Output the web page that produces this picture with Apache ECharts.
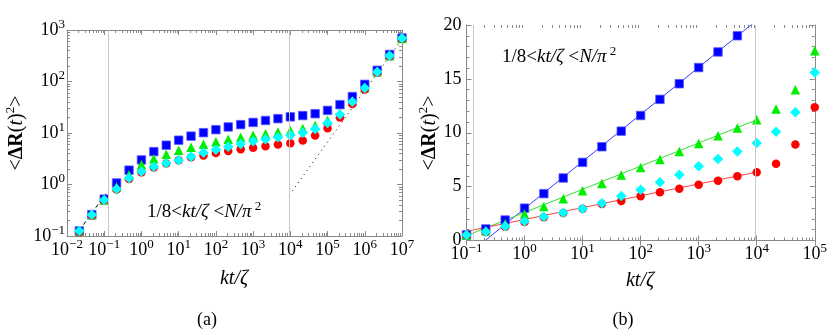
<!DOCTYPE html>
<html><head><meta charset="utf-8">
<script src="https://cdn.jsdelivr.net/npm/echarts@6/dist/echarts.min.js"></script>
<style>html,body{margin:0;padding:0;background:#fff}#c{width:830px;height:332px}</style>
</head><body><div id="c"></div>
<script>
// time values kt/zeta
const times = [0.0215,0.0464,0.1,0.215,0.464,1,2.15,4.64,10,21.5,46.4,100,215,464,1000,2154,4642,10000,21544,46416,100000,215443,464159,1000000,2154435,4641589,10000000];
const blueSq  = [0.125,0.26,0.52,1.07,1.9,3.0,4.35,5.8,7.25,8.7,10.15,11.6,13.1,14.55,16.05,17.5,19.0,20.6,21.8,23.7,27.5,35.5,51,88,165,335,700];
const greenTri= [0.125,0.26,0.5,0.9,1.55,2.45,3.15,3.88,4.62,5.3,6.08,6.78,7.52,8.25,9.0,9.72,10.45,11.2,12.2,14.0,17.6,24,42,76,155,318,685];
const redCirc = [0.12,0.25,0.49,0.8,1.28,1.72,2.15,2.55,2.95,3.38,3.67,4.1,4.48,4.81,5.18,5.55,5.96,6.33,7.13,8.9,12.37,20,36.6,70,148,310,680];
const cyanDia = [0.125,0.26,0.5,0.82,1.33,1.78,2.2,2.58,2.95,3.45,4.13,4.72,5.4,6.11,6.89,7.57,8.25,9.05,10.1,11.9,15.6,22.8,40.5,75,153,318,690];
// fitted lines and guide lines
const fitBlue  = [[0.21,0],[10000,20.44]];
const fitGreen = [[0.1,0.45],[10000,11.2]];
const fitRed   = [[0.1,0.85],[10000,6.35]];
const earlyLine = [[0.0167,0.1],[0.11,0.66]];
const lateLine  = [[9300,0.62],[10000000,667]];
const regimeBounds = [0.125, 9300];

const FONT = 'Liberation Serif';
const FRAME = '#8a8a8a';

function pairs(vals, filt){
  const out=[];
  for(let i=0;i<times.length;i++){
    if(!filt || filt(times[i], vals[i])) out.push([times[i], vals[i]]);
  }
  return out;
}
function logLabel(v){
  const e=Math.round(Math.log10(v));
  return '{b|10}{s|'+(e<0?'\u2212'+(-e):e)+'}';
}
const richLog = {
  b:{fontSize:18,fontFamily:FONT,color:'#000',lineHeight:24},
  s:{fontSize:13,fontFamily:FONT,color:'#000',lineHeight:13,verticalAlign:'top'}
};
function minorLogVals(e0,e1){
  const r=[]; for(let e=e0;e<e1;e++){ for(let m=2;m<=9;m++) r.push(m*Math.pow(10,e)); } return r;
}
function minorSeries(xi, yi, axis, vals, other){
  return {type:'custom', xAxisIndex:xi, yAxisIndex:yi, silent:true, z:1, clip:false,
    data: vals.map(v=> axis==='x'?[v,other]:[other,v]),
    renderItem(params, api){
      const cs=params.coordSys;
      const p=api.coord([api.value(0), api.value(1)]);
      const st={stroke:FRAME, lineWidth:1};
      if(axis==='x'){
        const x=Math.round(p[0])+0.5;
        return {type:'group',children:[
          {type:'line',shape:{x1:x,y1:cs.y+cs.height,x2:x,y2:cs.y+cs.height-3},style:st},
          {type:'line',shape:{x1:x,y1:cs.y,x2:x,y2:cs.y+3},style:st}]};
      } else {
        const y=Math.round(p[1])+0.5;
        return {type:'group',children:[
          {type:'line',shape:{x1:cs.x,y1:y,x2:cs.x+3,y2:y},style:st},
          {type:'line',shape:{x1:cs.x+cs.width,y1:y,x2:cs.x+cs.width-3,y2:y},style:st}]};
      }
    }};
}
function axisBase(extra){
  return Object.assign({
    axisLine:{show:true,lineStyle:{color:FRAME,width:1}},
    axisTick:{show:true,inside:true,length:5,lineStyle:{color:FRAME}},
    splitLine:{show:false}
  }, extra);
}
const markerSeries = (xi, yi, filt) => [
  {type:'scatter', xAxisIndex:xi, yAxisIndex:yi, symbol:'rect', symbolSize:8.5, clip:false,
   itemStyle:{color:'#0000ff',borderColor:'#5a5aff',borderWidth:0.8,opacity:1}, data:pairs(blueSq,filt), z:3},
  {type:'scatter', xAxisIndex:xi, yAxisIndex:yi, symbol:'triangle', symbolSize:9.5, clip:false,
   itemStyle:{color:'#00ee00',opacity:1}, data:pairs(greenTri,filt), z:3},
  {type:'scatter', xAxisIndex:xi, yAxisIndex:yi, symbol:'circle', symbolSize:8.5, clip:false,
   itemStyle:{color:'#ff0000',opacity:1}, data:pairs(redCirc,filt), z:3},
  {type:'scatter', xAxisIndex:xi, yAxisIndex:yi, symbol:'diamond', symbolSize:10.5, clip:false,
   itemStyle:{color:'#00ffff',opacity:1}, data:pairs(cyanDia,filt), z:3}
];
const gridMark = {silent:true, symbol:['none','none'], label:{show:false},
  lineStyle:{color:'#c8c8c8',width:1,type:'solid'},
  data: regimeBounds.map(v=>({xAxis:v}))};

const filtB = (t,v)=> t>=0.1 && t<=100000*1.0001 && v<=20;

const yLabelRich = {n:{fontSize:20,fontFamily:FONT,lineHeight:26},d:{fontSize:20,fontFamily:FONT,fontWeight:'bold',lineHeight:26},
  i:{fontSize:20,fontFamily:FONT,fontStyle:'italic',lineHeight:26},s:{fontSize:13,fontFamily:FONT,lineHeight:13,verticalAlign:'top'}};
const annRich = {n:{fontSize:19,fontFamily:FONT,lineHeight:24},i:{fontSize:19,fontFamily:FONT,fontStyle:'italic',lineHeight:24},
  s:{fontSize:13,fontFamily:FONT,lineHeight:13,verticalAlign:'top'}};

const option = {
  animation:false,
  grid:[
    {left:67, top:30, width:335, height:206},
    {left:466.5, top:25, width:350.5, height:215.5}
  ],
  xAxis:[
    axisBase({gridIndex:0,type:'log',logBase:10,min:0.01,max:1e7,interval:1,position:'bottom',
      axisLabel:{formatter:logLabel,rich:richLog,margin:2}}),
    axisBase({gridIndex:0,type:'log',logBase:10,min:0.01,max:1e7,interval:1,position:'top',axisLabel:{show:false}}),
    axisBase({gridIndex:1,type:'log',logBase:10,min:0.1,max:1e5,interval:1,position:'bottom',
      axisLabel:{formatter:logLabel,rich:richLog,margin:2}}),
    axisBase({gridIndex:1,type:'log',logBase:10,min:0.1,max:1e5,interval:1,position:'top',axisLabel:{show:false}})
  ],
  yAxis:[
    axisBase({gridIndex:0,type:'log',logBase:10,min:0.1,max:1000,interval:1,position:'left',
      axisLabel:{formatter:logLabel,rich:richLog,margin:2}}),
    axisBase({gridIndex:0,type:'log',logBase:10,min:0.1,max:1000,interval:1,position:'right',axisLabel:{show:false}}),
    axisBase({gridIndex:1,type:'value',min:0,max:20,interval:5,position:'left',
      minorTick:{show:true,splitNumber:5,length:3,lineStyle:{color:FRAME}},
      axisLabel:{fontSize:18,fontFamily:FONT,color:'#000',margin:5}}),
    axisBase({gridIndex:1,type:'value',min:0,max:20,interval:5,position:'right',
      minorTick:{show:true,splitNumber:5,length:3,lineStyle:{color:FRAME}},axisLabel:{show:false}})
  ],
  series:[
    minorSeries(0,0,'x',minorLogVals(-2,7),1),
    minorSeries(0,0,'y',minorLogVals(-1,3),1),
    minorSeries(2,2,'x',minorLogVals(-1,5),1),
    {type:'line', xAxisIndex:0, yAxisIndex:0, data:earlyLine, symbol:'none', z:2,
     lineStyle:{color:'#000',width:1,type:[4,3]}, markLine:gridMark},
    {type:'line', xAxisIndex:0, yAxisIndex:0, data:lateLine, symbol:'none', z:2,
     lineStyle:{color:'#000',width:1,type:[1,4]}},
    ...markerSeries(0,0,null),
    {type:'line', xAxisIndex:2, yAxisIndex:2, data:fitBlue, symbol:'none', z:2,
     lineStyle:{color:'#3a3aff',width:1}, markLine:gridMark},
    {type:'line', xAxisIndex:2, yAxisIndex:2, data:fitGreen, symbol:'none', z:2,
     lineStyle:{color:'#33dd33',width:1}},
    {type:'line', xAxisIndex:2, yAxisIndex:2, data:fitRed, symbol:'none', z:2,
     lineStyle:{color:'#ff4040',width:1}},
    ...markerSeries(2,2,filtB)
  ],
  graphic:[
    {type:'text', x:17, y:133, rotation:Math.PI/2, style:{
      text:'{n|<}{d|\u0394R}{n|(}{i|t}{n|)}{s|2}{n|>}', align:'center', verticalAlign:'middle', rich:yLabelRich}},
    {type:'text', x:430, y:133, rotation:Math.PI/2, style:{
      text:'{n|<}{d|\u0394R}{n|(}{i|t}{n|)}{s|2}{n|>}', align:'center', verticalAlign:'middle', rich:yLabelRich}},
    {type:'text', x:234, y:279, style:{text:'kt/\u03b6', font:'italic 20px "Liberation Serif"', fill:'#000', align:'center', verticalAlign:'middle'}},
    {type:'text', x:640, y:281, style:{text:'kt/\u03b6', font:'italic 20px "Liberation Serif"', fill:'#000', align:'center', verticalAlign:'middle'}},
    {type:'text', x:207, y:320, style:{text:'(a)', font:'18px "Liberation Serif"', fill:'#000', align:'center', verticalAlign:'middle'}},
    {type:'text', x:623, y:320, style:{text:'(b)', font:'18px "Liberation Serif"', fill:'#000', align:'center', verticalAlign:'middle'}},
    {type:'text', x:147, y:212, style:{
      text:'{n|1/8<}{i|kt/\u03b6}{n| <}{i|N/\u03c0}{s| 2}', align:'left', verticalAlign:'middle', rich:annRich}},
    {type:'text', x:502, y:57, style:{
      text:'{n|1/8<}{i|kt/\u03b6}{n| <}{i|N/\u03c0}{s| 2}', align:'left', verticalAlign:'middle', rich:annRich}}
  ]
};
const chart = echarts.init(document.getElementById('c'), null, {renderer:'canvas'});
chart.setOption(option);
</script>
</body></html>
